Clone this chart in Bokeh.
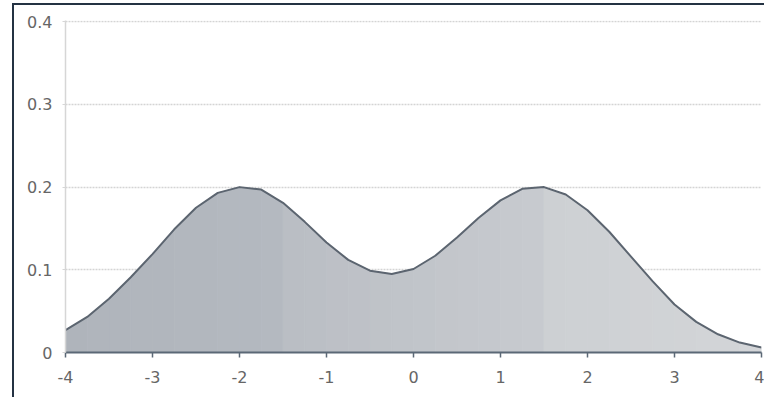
from bokeh.plotting import figure
from bokeh.models import FixedTicker, Range1d
from bokeh.embed import file_html
from bokeh.resources import INLINE

# Data (density-like curve)
x_vals = [-4.0, -3.75, -3.5, -3.25, -3.0, -2.75, -2.5, -2.25, -2.0, -1.75, -1.5, -1.25,
          -1.0, -0.75, -0.5, -0.25, 0.0, 0.25, 0.5, 0.75, 1.0, 1.25, 1.5, 1.75,
          2.0, 2.25, 2.5, 2.75, 3.0, 3.25, 3.5, 3.75, 4.0]
y_vals = [0.027, 0.043, 0.065, 0.091, 0.119, 0.149, 0.175, 0.193, 0.200, 0.197, 0.181, 0.158,
          0.133, 0.112, 0.099, 0.095, 0.101, 0.117, 0.139, 0.163, 0.184, 0.198, 0.200, 0.191,
          0.172, 0.146, 0.116, 0.086, 0.058, 0.037, 0.022, 0.012, 0.006]
x_ticks = [-4, -3, -2, -1, 0, 1, 2, 3, 4]
y_ticks = [0, 0.1, 0.2, 0.3, 0.4]


def hex2rgb(h):
    return tuple(int(h[i:i + 2], 16) for i in (1, 3, 5))


def mix(c1, c2, t):
    a, b = hex2rgb(c1), hex2rgb(c2)
    return "#%02x%02x%02x" % tuple(round(a[i] + (b[i] - a[i]) * t) for i in range(3))


def shade(xm):
    # stepped horizontal gradient, darker on the left, lighter on the right
    if xm < -1.6:
        return mix("#afb4bb", "#b4b9c0", (xm + 4) / 2.4)
    if xm < 1.5:
        return mix("#b9bdc3", "#c8cbcf", (xm + 1.6) / 3.1)
    return mix("#cdd0d3", "#d3d5d8", (xm - 1.5) / 2.5)


px, py, cols = [], [], []
for i in range(len(x_vals) - 1):
    x0, x1 = x_vals[i], x_vals[i + 1]
    y0, y1 = y_vals[i], y_vals[i + 1]
    px.append([x0, x1, x1, x0])
    py.append([y0, y1, 0, 0])
    cols.append(shade((x0 + x1) / 2))

p = figure(width=764, height=397, output_backend="svg", toolbar_location=None,
           x_range=Range1d(-4, 4), y_range=Range1d(0, 0.4015),
           min_border_left=65, min_border_right=3, min_border_top=20, min_border_bottom=45)
p.outline_line_color = None
p.background_fill_color = "white"
p.border_fill_color = "white"

p.patches(px, py, fill_color=cols, line_color=cols, line_width=0.8)
p.line(x_vals, y_vals, line_color="#5c6570", line_width=2, line_join="round")

p.xgrid.grid_line_color = None
p.ygrid.grid_line_color = "#d4d4d4"
p.ygrid.grid_line_dash = "2 1"
p.ygrid.grid_line_width = 1.5
p.ygrid.ticker = FixedTicker(ticks=y_ticks)

p.xaxis.ticker = FixedTicker(ticks=x_ticks)
p.yaxis.ticker = FixedTicker(ticks=y_ticks)
p.xaxis.major_label_overrides = {t: str(t) for t in x_ticks}
p.yaxis.major_label_overrides = {0: "0", 0.1: "0.1", 0.2: "0.2", 0.3: "0.3", 0.4: "0.4"}

p.xaxis.axis_line_color = "#5b6876"
p.xaxis.axis_line_width = 2
p.xaxis.major_tick_line_color = "#5b6876"
p.xaxis.major_tick_line_width = 1.5
p.xaxis.major_tick_out = 5
p.xaxis.major_tick_in = 0
p.xaxis.minor_tick_line_color = None
p.xaxis.major_label_standoff = 13

p.yaxis.axis_line_color = "#d6d6d6"
p.yaxis.axis_line_width = 1.5
p.yaxis.major_tick_line_color = "#d6d6d6"
p.yaxis.major_tick_out = 3
p.yaxis.major_tick_in = 0
p.yaxis.minor_tick_line_color = None
p.yaxis.major_label_standoff = 10

for ax in (p.xaxis, p.yaxis):
    ax.major_label_text_font = "DejaVu Sans"
    ax.major_label_text_font_size = "16px"
    ax.major_label_text_color = "#666666"

p.stylesheets = [":host { position: relative; } :host::after { content: ''; position: absolute; "
                 "left: 12px; top: 3px; width: 900px; height: 600px; border-left: 2px solid #243243; "
                 "border-top: 2px solid #243243; pointer-events: none; }"]

open("out.html", "w").write(file_html(p, INLINE))
